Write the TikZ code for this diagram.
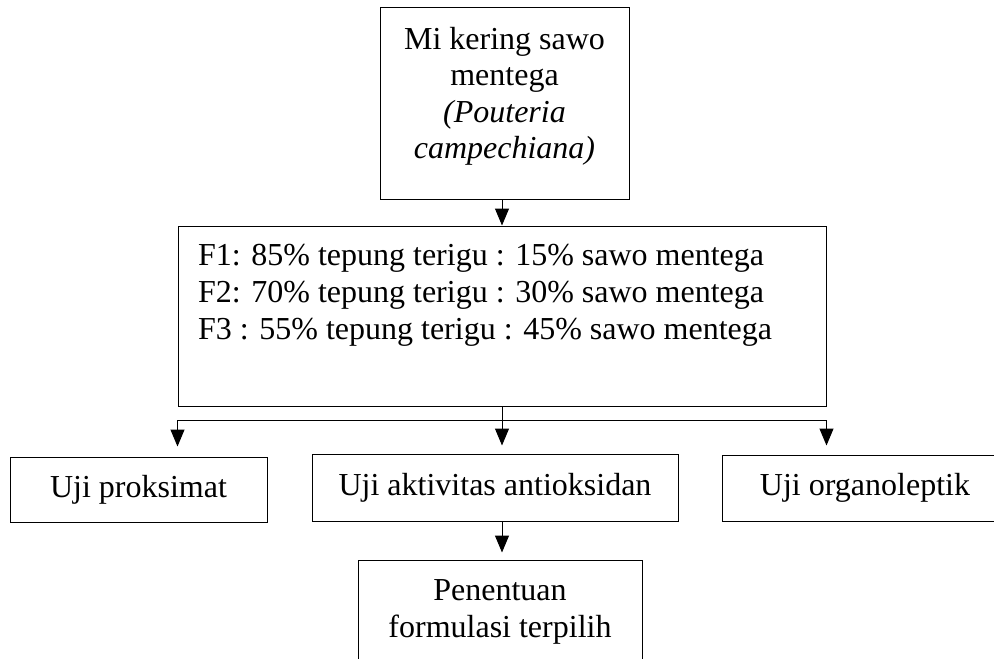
\documentclass[tikz,border=0pt]{standalone}
\usepackage{fontspec}
\setmainfont{Liberation Serif}
\usetikzlibrary{arrows.meta}
\begin{document}
\begin{tikzpicture}[x=1pt,y=-1pt,
  box/.style={draw,line width=1pt,inner sep=0pt,align=center,font=\fontsize{32}{36.5}\selectfont},
  link/.style={line width=1pt},
  arr/.style={line width=1pt,-{Triangle[length=17pt,width=14pt]}}]
  \useasboundingbox (0,0) rectangle (994,659);
  \node[box,minimum width=249,minimum height=192,text depth=20pt] (mi) at (504.5,103)
    {Mi kering sawo\\mentega\\\textit{(Pouteria}\\\textit{campechiana)}};
  \node[box,minimum width=648,minimum height=180,font=\fontsize{32}{37}\selectfont] (formula) at (502,316)
    {\parbox[c][144pt][t]{608pt}{F1: 85\% tepung terigu : 15\% sawo mentega\\
      F2: 70\% tepung terigu : 30\% sawo mentega\\
      F3 : 55\% tepung terigu : 45\% sawo mentega}};
  \node[box,minimum width=257,minimum height=65] (prox) at (138.5,489.5) {Uji proksimat};
  \node[box,minimum width=366,minimum height=67] (aktiv) at (495,487.5) {Uji aktivitas antioksidan};
  \node[box,minimum width=286,minimum height=66] (organo) at (865,488) {Uji organoleptik};
  \node[box,minimum width=284,minimum height=104] (final) at (500,612) {Penentuan\\formulasi terpilih};
  \draw[arr] (mi.south -| formula.north) -- (formula.north);
  \path (formula.south) ++(0,14) coordinate (split);
  \draw[link] (formula.south) -- (split);
  \draw[arr,shorten >=10pt] (split) -| (formula.south west |- prox.north);
  \draw[arr,shorten >=8pt] (split) -- (split |- aktiv.north);
  \draw[arr,shorten >=9pt] (split) -| (formula.south east |- organo.north);
  \draw[arr,shorten >=7pt] (split |- aktiv.south) -- (split |- final.north);
\end{tikzpicture}
\end{document}
